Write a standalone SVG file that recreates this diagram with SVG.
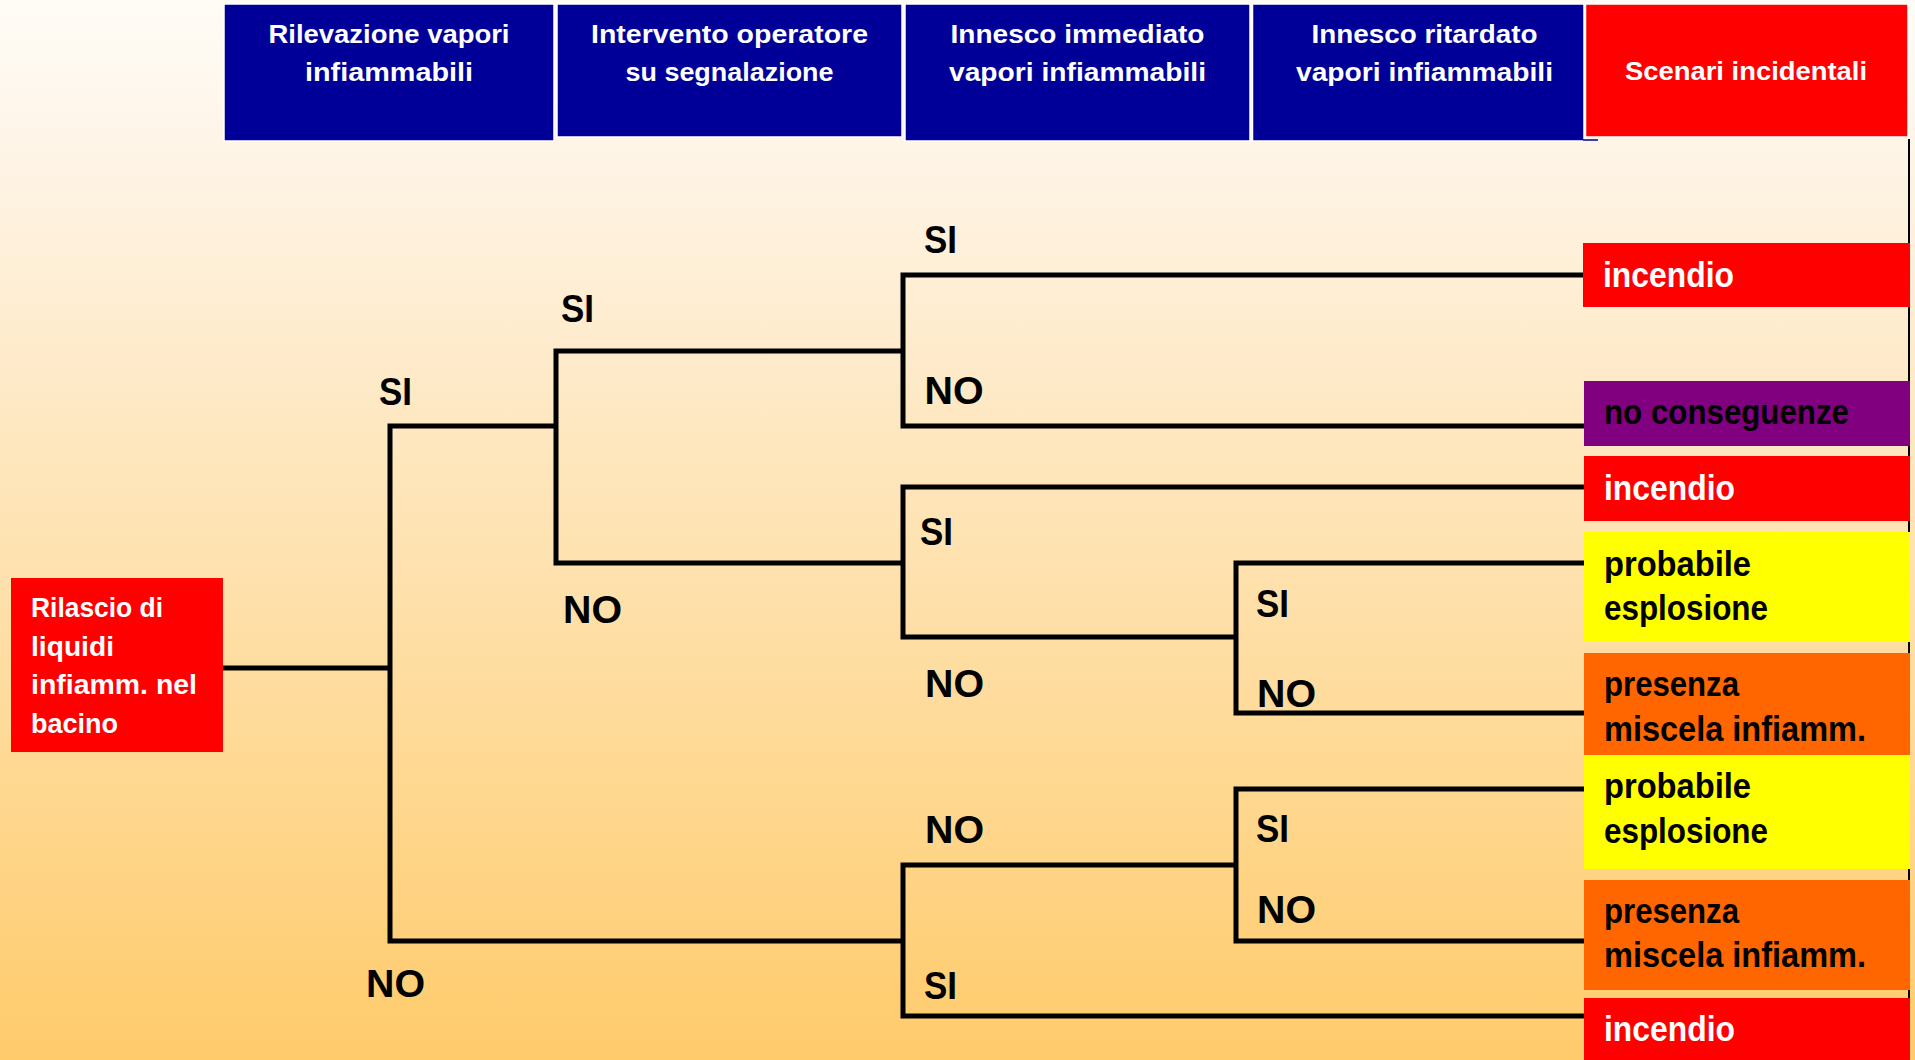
<svg xmlns="http://www.w3.org/2000/svg" width="1915" height="1060" viewBox="0 0 1915 1060">
  <defs>
    <linearGradient id="bg" x1="0" y1="0" x2="0" y2="1">
      <stop offset="0" stop-color="#FFFCF6"/>
      <stop offset="0.15" stop-color="#FEF4E6"/>
      <stop offset="1" stop-color="#FFCB6B"/>
    </linearGradient>
    <style>
      text { font-family: "Liberation Sans", Arial, sans-serif; font-weight: bold; }
      .hdr { fill: #000099; stroke: #FFFFFF; stroke-width: 1.5; }
      .hdr-red { fill: #FF0000; stroke: #FFFFFF; stroke-width: 1.5; }
      .htxt { fill: #FFFFFF; font-size: 26px; text-anchor: middle; }
      .fire { fill: #FF0000; }
      .none { fill: #800080; }
      .expl { fill: #FFFF00; }
      .mix { fill: #FF6600; }
      .otxt-w { fill: #FFFFFF; font-size: 35px; }
      .otxt-b { fill: #000000; font-size: 35px; }
      .rtxt { fill: #FFFFFF; font-size: 27px; }
      .edge { fill: none; stroke: #000000; stroke-width: 5; stroke-linejoin: miter; }
      .lbl { fill: #000000; font-size: 39px; }
    </style>
  </defs>

  <!-- background -->
  <rect x="0" y="0" width="1915" height="1060" fill="url(#bg)"/>

  <!-- thin frame line on the right edge -->
  <line x1="1909" y1="139" x2="1909" y2="1060" stroke="#000000" stroke-width="2"/>

  <!-- column headers -->
  <g id="hdr-rilevazione">
    <rect class="hdr" x="224" y="4" width="330" height="137"/>
    <text class="htxt" x="389" y="43" textLength="241" lengthAdjust="spacingAndGlyphs">Rilevazione vapori</text>
    <text class="htxt" x="389" y="81" textLength="168" lengthAdjust="spacingAndGlyphs">infiammabili</text>
  </g>
  <g id="hdr-intervento">
    <rect class="hdr" x="557" y="4" width="345" height="133"/>
    <text class="htxt" x="729.5" y="43" textLength="277" lengthAdjust="spacingAndGlyphs">Intervento operatore</text>
    <text class="htxt" x="729.5" y="81" textLength="208" lengthAdjust="spacingAndGlyphs">su segnalazione</text>
  </g>
  <g id="hdr-innesco-immediato">
    <rect class="hdr" x="905" y="4" width="345" height="137"/>
    <text class="htxt" x="1077.5" y="43" textLength="254" lengthAdjust="spacingAndGlyphs">Innesco immediato</text>
    <text class="htxt" x="1077.5" y="81" textLength="257" lengthAdjust="spacingAndGlyphs">vapori infiammabili</text>
  </g>
  <g id="hdr-innesco-ritardato">
    <rect class="hdr" x="1252.5" y="4" width="331.5" height="137"/>
    <line x1="1583" y1="140" x2="1598" y2="140" stroke="#000099" stroke-width="1.5"/>
    <text class="htxt" x="1424.5" y="43" textLength="226" lengthAdjust="spacingAndGlyphs">Innesco ritardato</text>
    <text class="htxt" x="1424.5" y="81" textLength="257" lengthAdjust="spacingAndGlyphs">vapori infiammabili</text>
  </g>
  <g id="hdr-scenari">
    <rect class="hdr-red" x="1585.5" y="4" width="322.5" height="133"/>
    <text class="htxt" x="1746" y="80" textLength="242" lengthAdjust="spacingAndGlyphs">Scenari incidentali</text>
  </g>

  <!-- event tree branches -->
  <g id="connectors">
    <path class="edge" d="M223 668 H390"/>
    <path class="edge" d="M556 426 H390 V941 H903"/>
    <path class="edge" d="M903 351 H556 V563 H903"/>
    <path class="edge" d="M1583 275 H903 V426 H1584"/>
    <path class="edge" d="M1584 487 H903 V637 H1236"/>
    <path class="edge" d="M1584 563 H1236 V713 H1584"/>
    <path class="edge" d="M1236 865 H903 V1016 H1584"/>
    <path class="edge" d="M1584 789 H1236 V941 H1584"/>
  </g>

  <!-- branch labels -->
  <g id="branch-labels">
    <text class="lbl" x="379" y="405" textLength="33" lengthAdjust="spacingAndGlyphs">SI</text>
    <text class="lbl" x="366" y="997" textLength="59" lengthAdjust="spacingAndGlyphs">NO</text>
    <text class="lbl" x="561" y="322" textLength="33" lengthAdjust="spacingAndGlyphs">SI</text>
    <text class="lbl" x="563" y="623" textLength="59" lengthAdjust="spacingAndGlyphs">NO</text>
    <text class="lbl" x="924" y="253" textLength="33" lengthAdjust="spacingAndGlyphs">SI</text>
    <text class="lbl" x="924.5" y="404" textLength="59" lengthAdjust="spacingAndGlyphs">NO</text>
    <text class="lbl" x="920" y="545" textLength="33" lengthAdjust="spacingAndGlyphs">SI</text>
    <text class="lbl" x="925" y="697" textLength="59" lengthAdjust="spacingAndGlyphs">NO</text>
    <text class="lbl" x="1256" y="617" textLength="33" lengthAdjust="spacingAndGlyphs">SI</text>
    <text class="lbl" x="1257" y="707" textLength="59" lengthAdjust="spacingAndGlyphs">NO</text>
    <text class="lbl" x="925" y="843" textLength="59" lengthAdjust="spacingAndGlyphs">NO</text>
    <text class="lbl" x="1256" y="842" textLength="33" lengthAdjust="spacingAndGlyphs">SI</text>
    <text class="lbl" x="1257" y="923" textLength="59" lengthAdjust="spacingAndGlyphs">NO</text>
    <text class="lbl" x="924" y="999" textLength="33" lengthAdjust="spacingAndGlyphs">SI</text>
  </g>

  <!-- initiating event -->
  <g id="root-rilascio">
    <rect class="fire" x="11" y="578" width="212" height="174"/>
    <text class="rtxt" x="31" y="617" textLength="132" lengthAdjust="spacingAndGlyphs">Rilascio di</text>
    <text class="rtxt" x="31" y="655.5" textLength="83" lengthAdjust="spacingAndGlyphs">liquidi</text>
    <text class="rtxt" x="31" y="694" textLength="166" lengthAdjust="spacingAndGlyphs">infiamm. nel</text>
    <text class="rtxt" x="31" y="732.5" textLength="87" lengthAdjust="spacingAndGlyphs">bacino</text>
  </g>

  <!-- outcome scenarios -->
  <g id="out-incendio-1">
    <rect class="fire" x="1583" y="243" width="327" height="64"/>
    <text class="otxt-w" x="1603" y="287" textLength="131" lengthAdjust="spacingAndGlyphs">incendio</text>
  </g>
  <g id="out-no-conseguenze">
    <rect class="none" x="1584" y="381" width="326" height="65"/>
    <text class="otxt-b" x="1604" y="424" textLength="245" lengthAdjust="spacingAndGlyphs">no conseguenze</text>
  </g>
  <g id="out-incendio-2">
    <rect class="fire" x="1584" y="456" width="326" height="65"/>
    <text class="otxt-w" x="1604" y="500" textLength="131" lengthAdjust="spacingAndGlyphs">incendio</text>
  </g>
  <g id="out-esplosione-1">
    <rect class="expl" x="1584" y="532" width="326" height="110"/>
    <text class="otxt-b" x="1604" y="576" textLength="147" lengthAdjust="spacingAndGlyphs">probabile</text>
    <text class="otxt-b" x="1604" y="620" textLength="164" lengthAdjust="spacingAndGlyphs">esplosione</text>
  </g>
  <g id="out-miscela-1">
    <rect class="mix" x="1584" y="653" width="326" height="102"/>
    <text class="otxt-b" x="1604" y="696" textLength="135" lengthAdjust="spacingAndGlyphs">presenza</text>
    <text class="otxt-b" x="1604" y="741" textLength="262" lengthAdjust="spacingAndGlyphs">miscela infiamm.</text>
  </g>
  <g id="out-esplosione-2">
    <rect class="expl" x="1584" y="755" width="326" height="114"/>
    <text class="otxt-b" x="1604" y="798" textLength="147" lengthAdjust="spacingAndGlyphs">probabile</text>
    <text class="otxt-b" x="1604" y="843" textLength="164" lengthAdjust="spacingAndGlyphs">esplosione</text>
  </g>
  <g id="out-miscela-2">
    <rect class="mix" x="1584" y="880" width="326" height="110"/>
    <text class="otxt-b" x="1604" y="923" textLength="135" lengthAdjust="spacingAndGlyphs">presenza</text>
    <text class="otxt-b" x="1604" y="967" textLength="262" lengthAdjust="spacingAndGlyphs">miscela infiamm.</text>
  </g>
  <g id="out-incendio-3">
    <rect class="fire" x="1584" y="998" width="326" height="62"/>
    <text class="otxt-w" x="1604" y="1041" textLength="131" lengthAdjust="spacingAndGlyphs">incendio</text>
  </g>
</svg>
